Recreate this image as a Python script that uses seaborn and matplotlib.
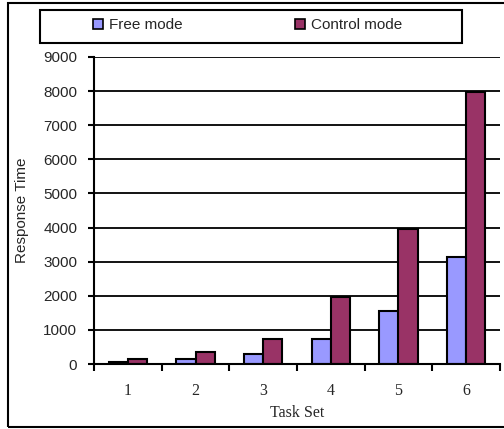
import matplotlib
matplotlib.use("Agg")
import matplotlib.pyplot as plt
import seaborn as sns
import pandas as pd
from matplotlib.patches import Rectangle, Patch

task_sets = ["1", "2", "3", "4", "5", "6"]
free_mode = [50, 155, 285, 725, 1560, 3130]
control_mode = [155, 340, 735, 1955, 3970, 7960]
series_names = ["Free mode", "Control mode"]
colors = ["#9999FF", "#993366"]

df = pd.DataFrame({
    "Task Set": task_sets * 2,
    "Response Time": free_mode + control_mode,
    "Mode": [series_names[0]] * 6 + [series_names[1]] * 6,
})

sns.set_theme(style="white")
plt.rcParams["font.family"] = ["Liberation Sans", "DejaVu Sans"]

fig = plt.figure(figsize=(5.04, 4.29), dpi=100)
ax = fig.add_axes([94 / 504, 1 - 364 / 429, (500 - 94) / 504, (364 - 57) / 429])

sns.barplot(data=df, x="Task Set", y="Response Time", hue="Mode",
            palette=colors, width=0.57, edgecolor="black", linewidth=1.5,
            ax=ax, legend=False, saturation=1)

ax.set_ylim(0, 9000)
ax.set_xlim(-0.5, 5.5)
ax.set_yticks(range(0, 9001, 1000))
ax.yaxis.grid(True, color="black", linewidth=1.3)
ax.set_axisbelow(True)
for s in ["top", "right"]:
    ax.spines[s].set_visible(False)
ax.spines["left"].set_color("black")
ax.spines["left"].set_linewidth(1.5)
ax.spines["bottom"].set_color("black")
ax.spines["bottom"].set_linewidth(1.5)

ax.set_xticks([i - 0.5 for i in range(7)])
ax.set_xticklabels([])
ax.set_xticks(range(6), minor=True)
ax.set_xticklabels(task_sets, minor=True, family=["Liberation Serif"], fontsize=11.5)
ax.tick_params(axis="x", which="major", direction="out", length=5, width=1.5, color="black", bottom=True)
ax.tick_params(axis="x", which="minor", length=0, pad=14)
ax.tick_params(axis="y", direction="out", length=4, width=1.5, color="black", left=True, labelsize=11, pad=8)

ax.set_xlabel("Task Set", family=["Liberation Serif"], fontsize=11.5, labelpad=4)
ax.set_ylabel("Response Time", fontsize=11)
ax.yaxis.set_label_coords(-0.16, 0.5)

# legend frame
fig.patches.append(Rectangle((40 / 504, 1 - 43 / 429), (462 - 40) / 504, 33 / 429,
                             transform=fig.transFigure, fill=False,
                             edgecolor="black", linewidth=1.5))
handles = [Patch(facecolor=c, edgecolor="black", linewidth=1.2) for c in colors]
leg = fig.legend(handles, series_names, loc="center left", ncol=2,
                 bbox_to_anchor=(93 / 504, 1 - 25 / 429),
                 frameon=False, fontsize=11,
                 handlelength=0.65, handleheight=0.65, handletextpad=0.4,
                 columnspacing=7.35, borderaxespad=0, borderpad=0)

# outer frame
fig.patches.append(Rectangle((8 / 504, 2 / 429), 1.0, 1 - 5 / 429, transform=fig.transFigure,
                             fill=False, edgecolor="black", linewidth=1.5))

fig.savefig("out.png", dpi=100)
